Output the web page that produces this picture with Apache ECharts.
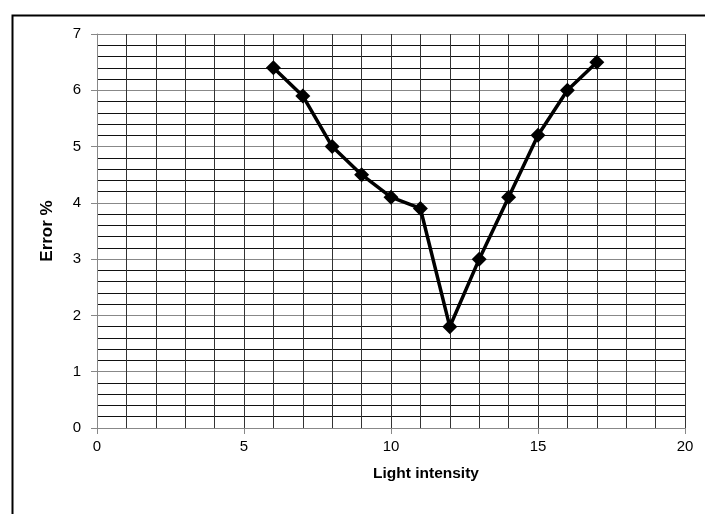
<!DOCTYPE html>
<html>
<head>
<meta charset="utf-8">
<script src="https://cdn.jsdelivr.net/npm/echarts@6/dist/echarts.min.js"></script>
<style>
html,body{margin:0;padding:0;background:#fff;}
#c{width:705px;height:514px;}
</style>
</head>
<body>
<div id="c"></div>
<script>
const lightIntensity = [6, 7, 8, 9, 10, 11, 12, 13, 14, 15, 16, 17];
const errorPct = [6.4, 5.9, 5.0, 4.5, 4.1, 3.9, 1.8, 3.0, 4.1, 5.2, 6.0, 6.5];
const xAxisTitle = 'Light intensity';
const yAxisTitle = 'Error %';

const chart = echarts.init(document.getElementById('c'), null, {renderer: 'canvas'});
const font = 'Liberation Sans';
chart.setOption({
  animation: false,
  backgroundColor: '#fff',
  graphic: [{
    type: 'rect', left: 10, top: 13,
    shape: {width: 720, height: 520},
    style: {fill: 'none', stroke: '#000', lineWidth: 2},
    silent: true
  }],
  grid: {left: 97, top: 34, width: 588, height: 394, containLabel: false},
  xAxis: {
    type: 'value', min: 0, max: 20, interval: 5,
    name: xAxisTitle, nameLocation: 'middle', nameGap: 38,
    nameTextStyle: {fontFamily: font, fontWeight: 'bold', fontSize: 15.5, color: '#000', padding: [0, 0, 0, 70]},
    axisLine: {show: true, onZero: false, lineStyle: {color: '#888', width: 1}},
    axisTick: {show: true, length: 6, lineStyle: {color: '#888'}},
    axisLabel: {fontFamily: font, fontSize: 15, color: '#000', margin: 11},
    splitLine: {show: true, lineStyle: {color: '#333', width: 1}},
    minorTick: {show: false, splitNumber: 5},
    minorSplitLine: {show: true, lineStyle: {color: '#333', width: 1}}
  },
  yAxis: {
    type: 'value', min: 0, max: 7, interval: 1,
    name: yAxisTitle, nameLocation: 'middle', nameGap: 41, nameRotate: 90,
    nameTextStyle: {fontFamily: font, fontWeight: 'bold', fontSize: 17, color: '#000'},
    axisLine: {show: true, onZero: false, lineStyle: {color: '#888', width: 1}},
    axisTick: {show: true, length: 6, lineStyle: {color: '#888'}},
    axisLabel: {fontFamily: font, fontSize: 15, color: '#000', margin: 16},
    splitLine: {show: true, lineStyle: {color: '#888', width: 1}},
    minorTick: {show: false, splitNumber: 5},
    minorSplitLine: {show: true, lineStyle: {color: '#111', width: 1}}
  },
  series: [{
    type: 'line',
    data: lightIntensity.map((x, i) => [x, errorPct[i]]),
    symbol: 'diamond', symbolSize: 15,
    lineStyle: {color: '#000', width: 3.5},
    itemStyle: {color: '#000'},
    z: 5
  }]
});
</script>
</body>
</html>
